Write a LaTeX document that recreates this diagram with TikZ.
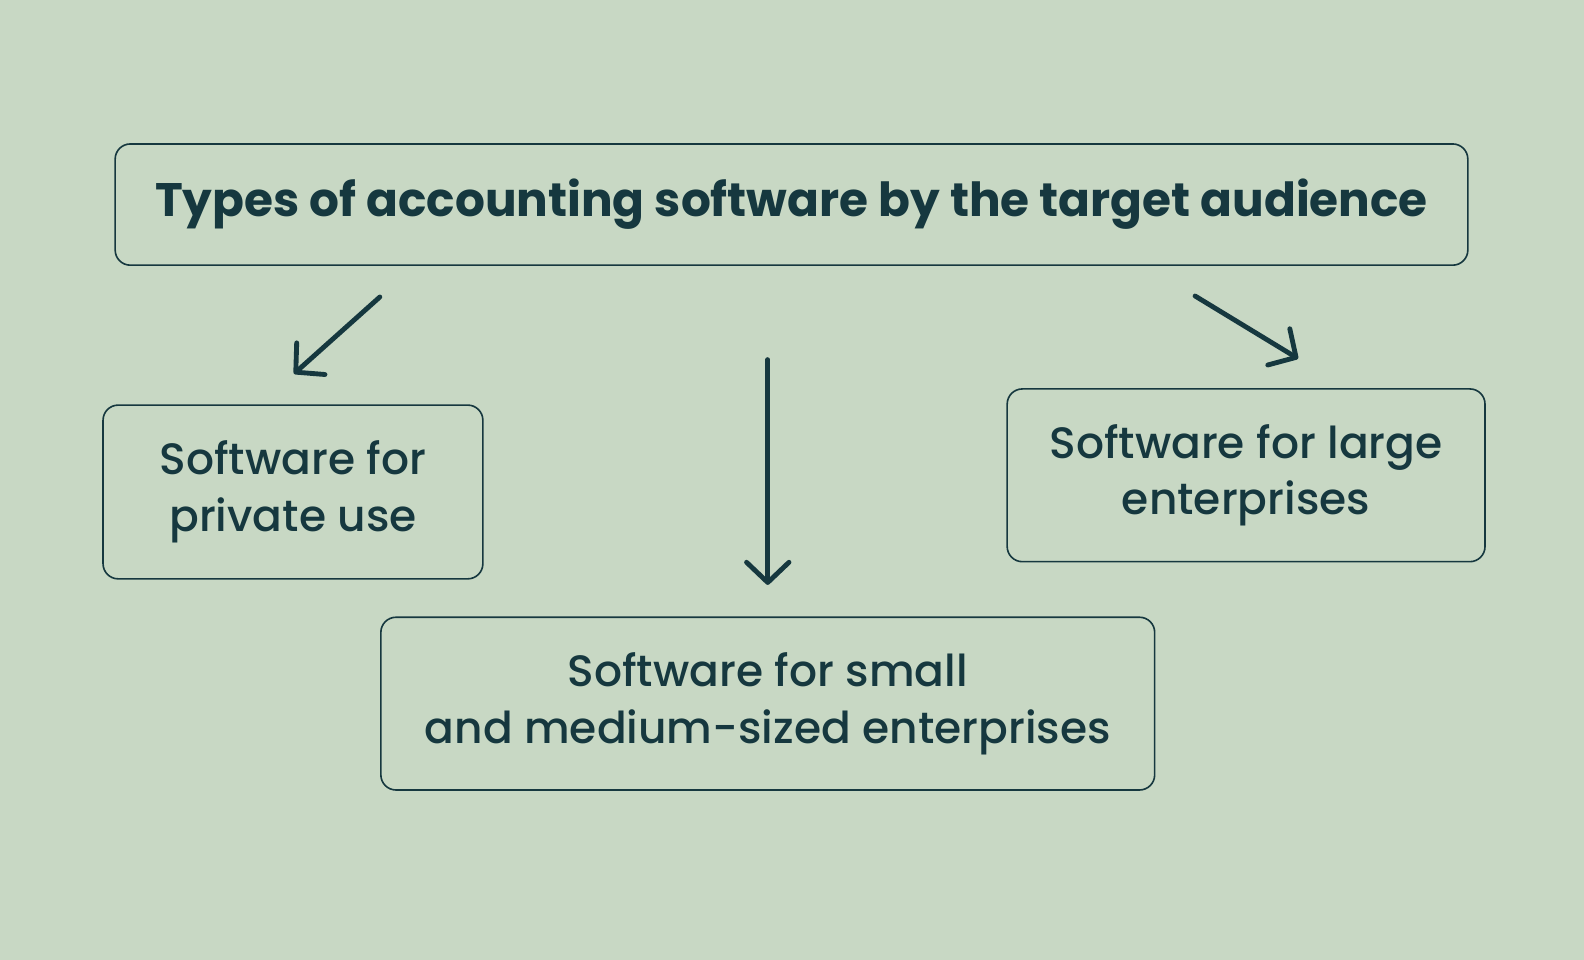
\documentclass[tikz,border=0pt]{standalone}
\usepackage{fontspec}
\setmainfont{Poppins}
\newfontfamily\pmed{Poppins Medium}
\usetikzlibrary{arrows.meta}
\definecolor{bgc}{HTML}{C8D8C4}
\definecolor{ink}{HTML}{16383F}
\begin{document}
\begin{tikzpicture}[x=1pt,y=-1pt,
  box/.style={draw=ink,line width=1.6pt,rounded corners=15pt,text=ink,align=center,inner sep=0pt},
  bodytext/.style={font=\pmed\fontsize{43.5}{56}\selectfont},
  arr/.style={draw=ink,line width=4.8pt,line cap=round,-{Straight Barb[length=20pt,width=42pt,round]}}]
\useasboundingbox (0,0) rectangle (1568,950);
\fill[bgc] (0,0) rectangle (1568,950);
\node[box,minimum width=1339pt,minimum height=120pt,font=\bfseries\fontsize{46.5}{50}\selectfont] (top) at (783.5,202.5) {Types of accounting software by the target audience};
\node[box,bodytext,minimum width=376pt,minimum height=172pt] (priv) at (290,487) {Software for\\private use};
\node[box,bodytext,minimum width=766pt,minimum height=171pt] (sme) at (760,696.5) {Software for small\\and medium-sized enterprises};
\node[box,bodytext,minimum width=473pt,minimum height=171pt] (large) at (1233.5,470.5) {Software for large\\enterprises};
\coordinate (a1s) at (376,294);
\coordinate (a1e) at (291,370);
\coordinate (a2s) at (760,356);
\coordinate (a2e) at (760,579);
\coordinate (a3s) at (1183,293);
\coordinate (a3e) at (1285,355);
\draw[arr] (a1s) -- (a1e);
\draw[arr] (a2s) -- (a2e);
\draw[arr] (a3s) -- (a3e);
\end{tikzpicture}
\end{document}
